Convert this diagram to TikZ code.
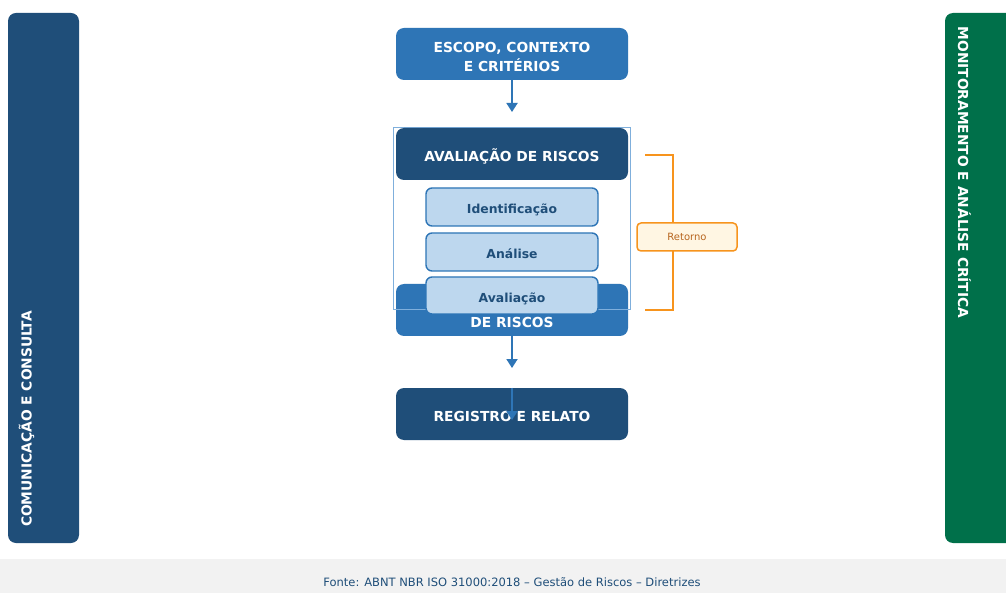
\documentclass[tikz,border=0pt]{standalone}
\usepackage{fontspec}
\setmainfont{DejaVu Sans}
\usetikzlibrary{arrows.meta}
\definecolor{dblue}{HTML}{1F4E79}
\definecolor{mblue}{HTML}{2E75B6}
\definecolor{lblue}{HTML}{BDD7EE}
\definecolor{fblue}{HTML}{7FAFDC}
\definecolor{dgreen}{RGB}{0,112,74}
\definecolor{oline}{HTML}{F7941D}
\definecolor{ofill}{HTML}{FFF6E3}
\definecolor{otext}{HTML}{B7651E}
\definecolor{footgray}{HTML}{F2F2F2}
\tikzset{
  boxtext/.style={text=white, font=\fontsize{13.8}{19}\selectfont\bfseries, align=center, inner sep=0pt},
  bigbox/.style={rounded corners=8pt, minimum width=232pt, minimum height=52pt, inner sep=0pt,
    text=white, font=\fontsize{13.8}{19}\selectfont\bfseries, align=center,
    text height=15pt, text depth=0pt},
  smallbox/.style={rounded corners=6pt, minimum width=172pt, inner sep=0pt, fill=lblue,
    draw=mblue, line width=1.4pt, text=dblue, font=\fontsize{12.4}{15}\selectfont\bfseries,
    text height=14pt, text depth=0pt},
  sidebar/.style={rounded corners=8pt, minimum width=71pt, minimum height=530pt, inner sep=0pt},
  sidetext/.style={text=white, font=\fontsize{13.8}{16}\selectfont\bfseries, inner sep=0pt},
  arr/.style={draw=mblue, line width=1.8pt, -{Triangle[length=9pt,width=11pt]}},
  bracket/.style={draw=oline, line width=1.8pt}
}
\begin{document}
\begin{tikzpicture}[x=1pt,y=-1pt]
\clip (0,0) rectangle (1006,593);
\fill[white] (0,0) rectangle (1006,593);
% footer
\fill[footgray] (0,559) rectangle (1006,593);
\node[text=dblue, font=\fontsize{11.5}{13}\selectfont, inner sep=0pt] (fonte) at (512,582)
  {Fonte: ABNT NBR ISO 31000:2018 – Gestão de Riscos – Diretrizes};
% side bars
\node[sidebar, fill=dblue] (leftbar) at (43.5,278) {};
\node[sidetext, rotate=90, anchor=base] (lefttext) at (31.5,419) {COMUNICAÇÃO E CONSULTA};
\node[sidebar, fill=dgreen] (rightbar) at (980.5,278) {};
\node[sidetext, rotate=-90, anchor=base] (righttext) at (958,172.5) {MONITORAMENTO E ANÁLISE CRÍTICA};
% main flow
\node[bigbox, fill=mblue] (escopo) at (512,54) {};
\node[boxtext] (escopolabel) at (512,57) {ESCOPO, CONTEXTO\\E CRITÉRIOS};
\node[bigbox, fill=mblue] (trat) at (512,310) {};
\node[boxtext, anchor=base] (tratlabel) at (512,328) {DE RISCOS};
\node[draw=fblue, line width=1pt, minimum width=237pt, minimum height=182pt, inner sep=0pt] (frame) at (512,219) {};
\node[bigbox, fill=dblue] (aval) at (512,154) {AVALIAÇÃO DE RISCOS};
\node[smallbox, minimum height=38pt] (ident) at (512,207) {Identificação};
\node[smallbox, minimum height=38pt] (analise) at (512,252) {Análise};
\node[smallbox, minimum height=37pt] (avaliacao) at (512,295.5) {Avaliação};
\node[bigbox, fill=dblue] (registro) at (512,414) {REGISTRO E RELATO};
% arrows
\coordinate (a1) at (512,112);
\coordinate (a2) at (512,368);
\coordinate (a3) at (512,420);
\draw[arr] (escopo.south) -- (a1);
\draw[arr] (trat.south) -- (a2);
\draw[arr] (registro.north) -- (a3);
% retorno bracket
\coordinate (b1) at (645,155);
\coordinate (b2) at (673,155);
\coordinate (b3) at (673,310);
\coordinate (b4) at (645,310);
\draw[bracket] (b1) -- (b2) -- (b3) -- (b4);
\node[rounded corners=4pt, fill=ofill, draw=oline, line width=1.5pt, minimum width=100pt, minimum height=28pt,
  inner sep=0pt, text=otext, font=\fontsize{10}{12}\selectfont] (retorno) at (687,237) {Retorno};
\end{tikzpicture}
\end{document}
